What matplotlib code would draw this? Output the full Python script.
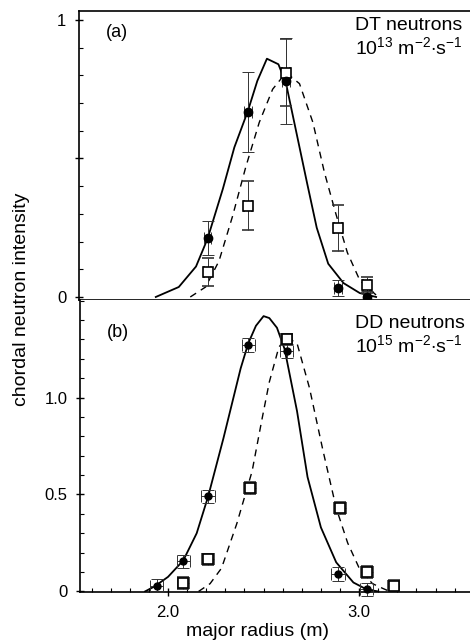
import matplotlib
matplotlib.use("Agg")
import matplotlib.pyplot as plt
from matplotlib.ticker import MultipleLocator, FixedLocator

plt.rcParams['font.family'] = ['Liberation Sans', 'DejaVu Sans']
plt.rcParams['mathtext.fontset'] = 'custom'
plt.rcParams['mathtext.rm'] = 'Liberation Sans'
plt.rcParams['mathtext.it'] = 'Liberation Sans'

# ---- (a) DT neutrons ----
dt_x = [2.21, 2.42, 2.62, 2.89, 3.04]
dt_fill = [0.213, 0.668, 0.78, 0.032, 0.0]
dt_fill_err = [0.06, 0.145, 0.155, 0.03, 0.02]
dt_open = [0.09, 0.33, 0.81, 0.25, 0.043]
dt_open_err = [0.05, 0.087, 0.12, 0.083, 0.03]

dt_solid_x = [1.94, 2.06, 2.15, 2.21, 2.29, 2.35, 2.42, 2.47, 2.52, 2.58, 2.62,
              2.675, 2.73, 2.78, 2.84, 2.92, 3.005, 3.09]
dt_solid_y = [0.0, 0.036, 0.11, 0.21, 0.39, 0.54, 0.67, 0.78, 0.86, 0.84, 0.77,
              0.59, 0.41, 0.25, 0.12, 0.05, 0.014, 0.0]
dt_dash_x = [2.12, 2.20, 2.27, 2.34, 2.41, 2.48, 2.55, 2.62, 2.69, 2.76, 2.82,
             2.88, 2.94, 3.005, 3.09]
dt_dash_y = [0.0, 0.036, 0.13, 0.29, 0.47, 0.63, 0.75, 0.81, 0.77, 0.63, 0.45,
             0.30, 0.16, 0.06, 0.007]

# ---- (b) DD neutrons ----
dd_fill_x = [1.94, 2.08, 2.21, 2.42, 2.62, 2.89, 3.04]
dd_fill = [0.03, 0.155, 0.49, 1.27, 1.24, 0.09, 0.01]
dd_open_x = [2.08, 2.21, 2.43, 2.62, 2.90, 3.04, 3.18]
dd_open = [0.045, 0.165, 0.535, 1.30, 0.43, 0.10, 0.03]

dd_solid_x = [1.88, 1.93, 2.00, 2.08, 2.15, 2.21, 2.29, 2.38, 2.42, 2.46, 2.50,
              2.53, 2.57, 2.61, 2.675, 2.73, 2.80, 2.88, 2.97, 3.04, 3.10]
dd_solid_y = [0.0, 0.026, 0.075, 0.16, 0.30, 0.49, 0.79, 1.15, 1.28, 1.37, 1.42,
              1.41, 1.36, 1.25, 0.93, 0.59, 0.33, 0.15, 0.046, 0.01, 0.0]
dd_dash_x = [2.16, 2.22, 2.28, 2.36, 2.44, 2.49, 2.53, 2.58, 2.62, 2.675, 2.74,
             2.81, 2.88, 2.94, 3.005, 3.07, 3.125, 3.16]
dd_dash_y = [0.0, 0.04, 0.12, 0.35, 0.62, 0.88, 1.08, 1.26, 1.31, 1.28, 1.05,
             0.73, 0.43, 0.25, 0.11, 0.04, 0.015, 0.0]

fig = plt.figure(figsize=(4.70, 6.43), dpi=100)
ax1 = fig.add_axes([0.168, 0.5334, 0.832, 0.4494])
ax2 = fig.add_axes([0.170, 0.0793, 0.830, 0.4541])

ebkw = dict(ls='none', ecolor='#333333', elinewidth=0.7, capsize=4, capthick=0.7,
            clip_on=False, zorder=3)

# panel a
ax1.plot(dt_solid_x, dt_solid_y, color='black', lw=1.3, zorder=2)
ax1.plot(dt_dash_x, dt_dash_y, color='black', lw=1.0, dashes=(5, 4), zorder=2)
ax1.errorbar(dt_x, dt_open, yerr=dt_open_err, xerr=0.02, fmt='s', ms=7,
             mfc='white', mec='black', mew=1.2, **ebkw)
ax1.errorbar(dt_x, dt_fill, yerr=dt_fill_err, xerr=0.02, fmt='o', ms=6,
             mfc='black', mec='black', **ebkw)

# panel b
ax2.plot(dd_solid_x, dd_solid_y, color='black', lw=1.3, zorder=2)
ax2.plot(dd_dash_x, dd_dash_y, color='black', lw=1.0, dashes=(5, 4), zorder=2)
ax2.errorbar(dd_open_x, dd_open, yerr=0.03, xerr=0.03, fmt='s', ms=7,
             mfc='white', mec='black', mew=1.2, **ebkw)
ax2.errorbar(dd_fill_x, dd_fill, yerr=0.035, xerr=0.035, fmt='o', ms=5,
             mfc='black', mec='black', **ebkw)

for ax in (ax1, ax2):
    ax.set_xlim(1.539, 3.58)
    ax.spines['right'].set_visible(False)
    for s in ax.spines.values():
        s.set_linewidth(1.2)
    ax.xaxis.set_major_locator(FixedLocator([2.0, 3.0]))
    ax.xaxis.set_minor_locator(MultipleLocator(0.1))
    ax.yaxis.set_minor_locator(MultipleLocator(0.1))
    ax.tick_params(which='major', direction='inout', length=6, width=1.0,
                   labelsize=12, colors='black', pad=6)
    ax.tick_params(which='minor', direction='in', length=3, width=0.8)

ax1.set_ylim(-0.011, 1.032)
ax1.set_yticks([0, 0.5, 1])
ax1.set_yticklabels(['0', '', '1'])
ax1.tick_params(axis='x', which='both', direction='out', labelbottom=False)
ax1.tick_params(axis='x', which='major', length=3)

ax2.set_ylim(-0.003, 1.503)
ax2.set_yticks([0, 0.5, 1.0])
ax2.set_yticklabels(['0', '0.5', '1.0'])
ax2.set_xticklabels(['2.0', '3.0'])
ax2.spines['top'].set_visible(False)

fs = 14
ax1.text(0.07, 0.91, '(a)', transform=ax1.transAxes, fontsize=13)
fig.text(355 / 470, 1 - 26 / 643, 'DT neutrons', fontsize=fs, ha='left', va='center')
fig.text(355 / 470, 1 - 47 / 643, r'10$^{13}$ m$^{-2}$$\cdot$s$^{-1}$', fontsize=fs,
         ha='left', va='center')

ax2.text(0.07, 0.875, '(b)', transform=ax2.transAxes, fontsize=13)
fig.text(355 / 470, 1 - 324 / 643, 'DD neutrons', fontsize=fs, ha='left', va='center')
fig.text(355 / 470, 1 - 345 / 643, r'10$^{15}$ m$^{-2}$$\cdot$s$^{-1}$', fontsize=fs,
         ha='left', va='center')

fig.text(22 / 470, 1 - 299 / 643, 'chordal neutron intensity', rotation=90,
         ha='center', va='center', fontsize=fs)
fig.text(257 / 470, 1 - 632 / 643, 'major radius (m)', ha='center',
         va='center', fontsize=fs)

fig.savefig('out.png', dpi=100)
